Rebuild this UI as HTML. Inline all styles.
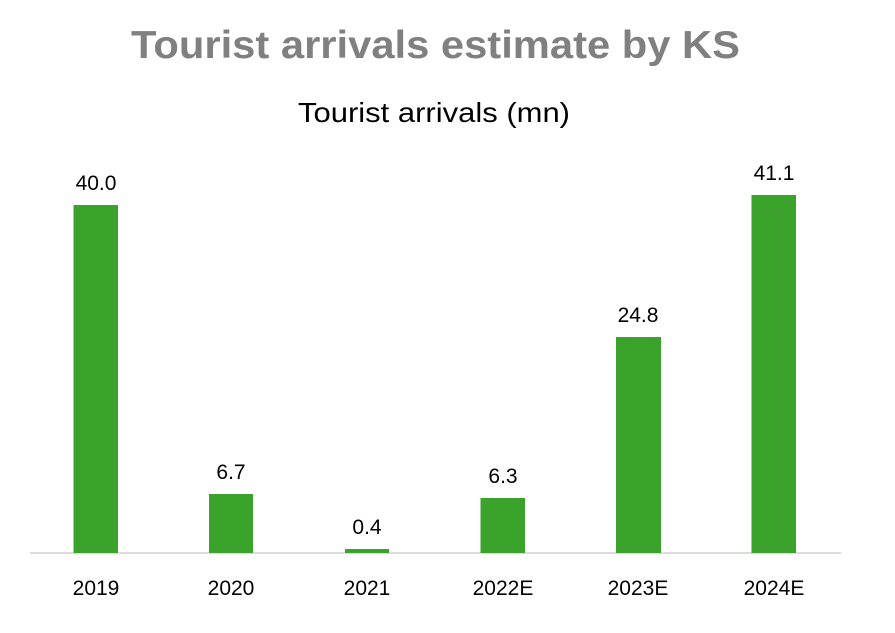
<!DOCTYPE html>
<html><head><style>
body{margin:0;background:#fff;}
svg text{font-family:"Liberation Sans",sans-serif;}
</style></head><body>
<svg width="895" height="628" xmlns="http://www.w3.org/2000/svg">
<rect width="895" height="628" fill="#fff"/>
<text x="131" y="58" textLength="609" lengthAdjust="spacingAndGlyphs" font-size="39" font-weight="bold" fill="#808080">Tourist arrivals estimate by KS</text>
<text x="298" y="122" textLength="272" lengthAdjust="spacingAndGlyphs" font-size="28" fill="#000">Tourist arrivals (mn)</text>
<line x1="30" y1="553" x2="841" y2="553" stroke="#d0d0d0" stroke-width="1.5"/>
<g fill="#3ba22b">
<rect x="73.5" y="205" width="44.5" height="348"/>
<rect x="209" y="494" width="44" height="59"/>
<rect x="345" y="549" width="44" height="4"/>
<rect x="480.5" y="498" width="44.5" height="55"/>
<rect x="616" y="337" width="45" height="216"/>
<rect x="751.5" y="195" width="44.5" height="358"/>
</g>
<g font-size="21" text-anchor="middle" fill="#000">
<text x="96" y="190">40.0</text>
<text x="231" y="479">6.7</text>
<text x="367" y="534">0.4</text>
<text x="503" y="483">6.3</text>
<text x="638" y="322">24.8</text>
<text x="774" y="180">41.1</text>
<text x="96" y="595">2019</text>
<text x="231" y="595">2020</text>
<text x="367" y="595">2021</text>
<text x="503" y="595">2022E</text>
<text x="638" y="595">2023E</text>
<text x="774" y="595">2024E</text>
</g>
</svg>
</body></html>
